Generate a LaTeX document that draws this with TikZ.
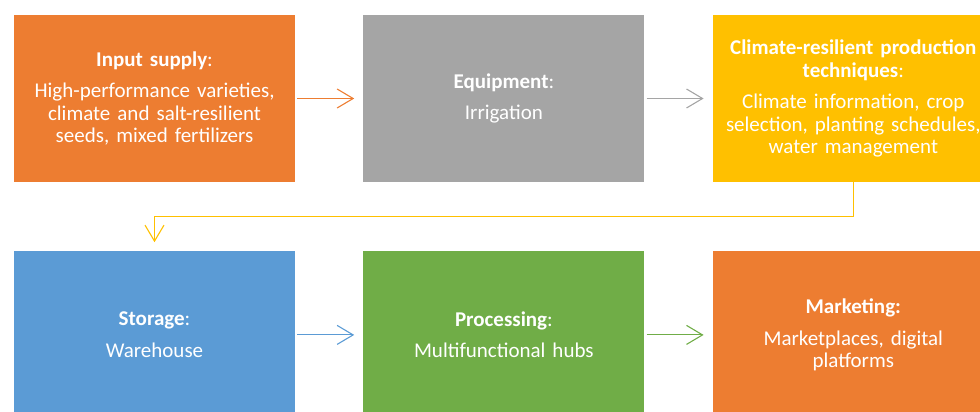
\documentclass[tikz,border=0pt]{standalone}
\usepackage{fontspec}
\setmainfont{Carlito}
\usetikzlibrary{positioning,arrows.meta}
\definecolor{chainorange}{HTML}{ED7D31}
\definecolor{chaingray}{HTML}{A5A5A5}
\definecolor{chainyellow}{HTML}{FFC000}
\definecolor{chainblue}{HTML}{5B9BD5}
\definecolor{chaingreen}{HTML}{70AD47}

\begin{document}
\begin{tikzpicture}[x=1pt, y=1pt, node distance=68pt,
    stage/.style={rectangle, fill=#1, text=white, text width=275pt, align=center, minimum width=281pt, minimum height=167pt, inner sep=0pt, font=\fontsize{21}{22.5}\selectfont},
    link/.style={draw=#1, line width=1.1pt, -{Straight Barb[length=16pt,width=19pt]}, shorten <=2pt, shorten >=9pt}]

    \clip (0,0) rectangle (980,-412);

    \node[stage=chainorange] (input) at (154.5,-98.5) {\textbf{Input supply}:\\[9pt] High-performance varieties,\\ climate and salt-resilient\\ seeds, mixed fertilizers};
    \node[stage=chaingray, right=of input] (equip) {\textbf{Equipment}:\\[9pt] Irrigation};
    \node[stage=chainyellow, right=of equip] (climate) {\textbf{Climate-resilient production}\\ \textbf{techniques}:\\[9pt] Climate information, crop\\ selection, planting schedules,\\ water management};

    \node[stage=chainblue, below=69pt of input] (storage) {\textbf{Storage}:\\[9pt] Warehouse};
    \node[stage=chaingreen, right=of storage] (process) {\textbf{Processing}:\\[9pt] Multifunctional hubs};
    \node[stage=chainorange, right=of process] (market) {\textbf{Marketing:}\\[9pt] Marketplaces, digital\\ platforms};

    \draw[link=chainorange] (input) -- (equip);
    \draw[link=chaingray] (equip) -- (climate);
    \draw[link=chainyellow, shorten <=0pt] (climate.south) -- ++(0,-34) -| (storage.north);
    \draw[link=chainblue] (storage) -- (process);
    \draw[link=chaingreen] (process) -- (market);
\end{tikzpicture}
\end{document}
